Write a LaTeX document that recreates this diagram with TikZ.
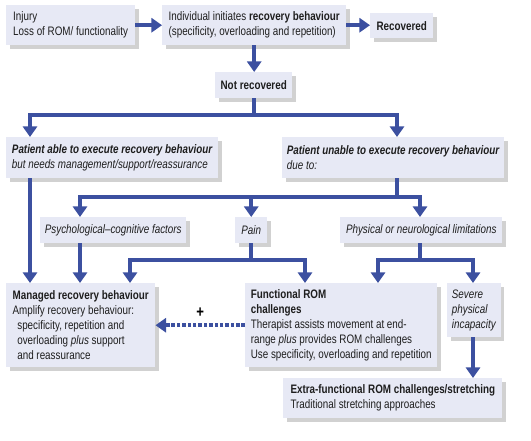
\documentclass[tikz,border=0pt]{standalone}
\usepackage{fontspec}
\setmainfont{Liberation Sans}[FakeStretch=0.8]
\usetikzlibrary{arrows.meta,shadows}
\definecolor{boxfill}{RGB}{231,233,245}
\definecolor{arrblue}{RGB}{60,80,160}
\definecolor{txtgray}{RGB}{30,30,30}

\begin{document}
\begin{tikzpicture}[x=0.03cm,y=-0.03cm,
  box/.style={fill=boxfill,anchor=north west,inner xsep=4pt,inner ysep=3pt,align=left,
    text=txtgray,font=\fontsize{10.5}{12.8}\selectfont,
    drop shadow={shadow xshift=3pt,shadow yshift=-3pt,opacity=0.3,fill=black!60}},
  arr/.style={arrblue,line width=3.4pt,-{Triangle[width=12pt,length=9pt]}},
  dasharr/.style={arr,dash pattern=on 3pt off 1.6pt}]
\useasboundingbox (0,0) rectangle (531,440);
% top row
\node[box,minimum width=110pt,minimum height=34.1pt] (inj) at (6,5) {Injury\\Loss of ROM/ functionality};
\node[box,minimum width=157pt,minimum height=34.1pt] (ind) at (162,5)
  {Individual initiates \textbf{recovery behaviour}\\(specificity, overloading and repetition)};
\node[box,minimum width=53.8pt,minimum height=21.3pt] (rec) at (370,13) {\textbf{Recovered}};
\node[box,minimum width=65.7pt,minimum height=22.2pt] (notrec) at (215,72) {\textbf{Not recovered}};
% able / unable
\node[box,minimum width=181pt,minimum height=35pt] (able) at (6,137)
  {\textbf{\textit{Patient able to execute recovery behaviour}}\\\textit{but needs management/support/reassurance}};
\node[box,minimum width=187.8pt,minimum height=35pt] (unable) at (282,137)
  {\textbf{\textit{Patient unable to execute recovery behaviour}}\\\textit{due to:}};
% causes
\node[box,minimum width=122pt,minimum height=22.2pt] (psych) at (40,217) {\textit{Psychological--cognitive factors}};
\node[box,minimum width=27.3pt,minimum height=22.2pt] (pain) at (235,217) {\textit{Pain}};
\node[box,minimum width=138.3pt,minimum height=22.2pt] (phys) at (340,217) {\textit{Physical or neurological limitations}};
% treatments
\node[box,minimum width=127.2pt,minimum height=71.7pt] (managed) at (6,283)
  {\textbf{Managed recovery behaviour}\\Amplify recovery behaviour:\\\hspace*{4pt}specificity, repetition and\\
   \hspace*{4pt}overloading \textit{plus} support\\\hspace*{4pt}and reassurance};
\node[box,minimum width=163.9pt,minimum height=71.7pt] (funrom) at (245,283)
  {\textbf{Functional ROM}\\\textbf{challenges}\\Therapist assists movement at end-\\
   range \textit{plus} provides ROM challenges\\Use specificity, overloading and repetition};
\node[box,minimum width=39.3pt,minimum height=46.1pt] (severe) at (447,283)
  {\textit{Severe}\\\textit{physical}\\\textit{incapacity}};
\node[box,minimum width=187pt,minimum height=34.1pt] (extra) at (283,378)
  {\textbf{Extra-functional ROM challenges/stretching}\\Traditional stretching approaches};

\draw[arr] (inj.east) -- (ind.west);
\draw[arr] (ind.east) -- (ind.east -| rec.west);
\draw[arr] (ind.south) -- (ind.south |- notrec.north);
\draw[arr] (notrec.south) -- ++(0,17) -| ([shift={(24,0)}]able.north west);
\draw[arr] (notrec.south) -- ++(0,17) -| ([shift={(115,0)}]unable.north west);
\draw[arr] ([shift={(115,0)}]unable.south west) -- ++(0,19) -| ([shift={(40,0)}]psych.north west);
\draw[arr] ([shift={(115,0)}]unable.south west) -- ++(0,19) -| (pain.north);
\draw[arr] ([shift={(115,0)}]unable.south west) -- ++(0,19) -| ([shift={(80,0)}]phys.north west);
\draw[arr] ([shift={(24,0)}]able.south west) -- ([shift={(24,0)}]managed.north west);
\draw[arr] ([shift={(40,0)}]psych.south west) -- ([shift={(74,0)}]managed.north west);
\draw[arr] (pain.south) -- ++(0,17) -| ([shift={(124,0)}]managed.north west);
\draw[arr] (pain.south) -- ++(0,17) -| ([shift={(60,0)}]funrom.north west);
\draw[arr] ([shift={(80,0)}]phys.south west) -- ++(0,17) -| ([shift={(133,0)}]funrom.north west);
\draw[arr] ([shift={(80,0)}]phys.south west) -- ++(0,17) -| ([shift={(26,0)}]severe.north west);
\draw[arr] ([shift={(26,0)}]severe.south west) -- ([shift={(190,0)}]extra.north west);
\draw[dasharr] (funrom.west) -- node[above=2pt,text=black,font=\bfseries\fontsize{14}{14}\selectfont] (plus) {+} (managed.east);
\end{tikzpicture}
\end{document}
